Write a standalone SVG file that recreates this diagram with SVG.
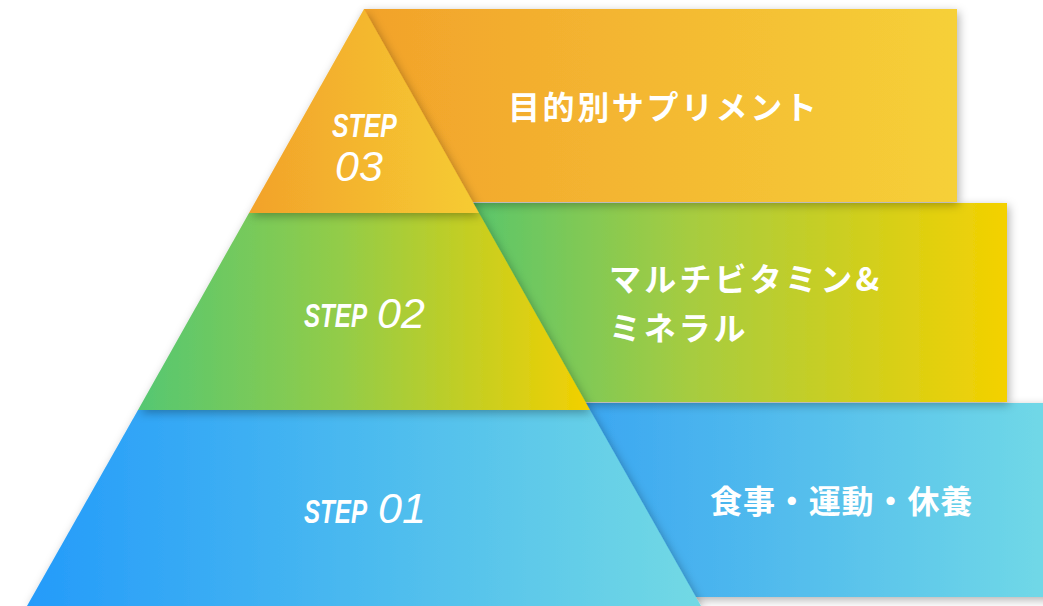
<svg xmlns="http://www.w3.org/2000/svg" width="1043" height="606" viewBox="0 0 1043 606">
<defs>
  <filter id="sh" x="-20%" y="-20%" width="140%" height="140%">
    <feDropShadow dx="2" dy="3" stdDeviation="5" flood-color="#000" flood-opacity="0.3"/>
  </filter>
  <linearGradient id="gTopTri" gradientUnits="userSpaceOnUse" x1="249" y1="0" x2="479" y2="0">
    <stop offset="0" stop-color="#F2A22B"/><stop offset="1" stop-color="#F6CC32"/>
  </linearGradient>
  <linearGradient id="gTopRect" gradientUnits="userSpaceOnUse" x1="364" y1="0" x2="957" y2="0">
    <stop offset="0" stop-color="#F2A22B"/><stop offset="1" stop-color="#F6D038"/>
  </linearGradient>
  <linearGradient id="gMidTrap" gradientUnits="userSpaceOnUse" x1="138" y1="0" x2="590" y2="0">
    <stop offset="0" stop-color="#55C772"/><stop offset="0.45" stop-color="#93CC48"/><stop offset="1" stop-color="#F3D000"/>
  </linearGradient>
  <linearGradient id="gMidRect" gradientUnits="userSpaceOnUse" x1="479" y1="0" x2="1007" y2="0">
    <stop offset="0" stop-color="#5CC66A"/><stop offset="0.4" stop-color="#A6CC40"/><stop offset="1" stop-color="#F4D100"/>
  </linearGradient>
  <linearGradient id="gBotTrap" gradientUnits="userSpaceOnUse" x1="27" y1="0" x2="701" y2="0">
    <stop offset="0" stop-color="#249BFA"/><stop offset="1" stop-color="#72D9E4"/>
  </linearGradient>
  <linearGradient id="gBotRect" gradientUnits="userSpaceOnUse" x1="590" y1="0" x2="1043" y2="0">
    <stop offset="0" stop-color="#3CA7F1"/><stop offset="1" stop-color="#70D8E7"/>
  </linearGradient>
</defs>
<style>
  .jp { font-family: "Noto Sans CJK JP", "Noto Sans", sans-serif; font-weight: 700; font-size: 32px; fill: #fff; letter-spacing: 1.5px; }
  .step { font-family: "Liberation Sans", "DejaVu Sans", sans-serif; font-style: italic; font-weight: 700; font-size: 34px; fill: #fff; }
  .num { font-family: "Liberation Sans", "DejaVu Sans", sans-serif; font-style: italic; font-weight: 400; font-size: 43px; fill: #fff; }
</style>
<rect width="1043" height="606" fill="#fff"/>

<g id="box-step01">
  <rect x="560" y="403" width="520" height="194" fill="url(#gBotRect)" filter="url(#sh)"/>
  <text class="jp" x="710" y="513" style="letter-spacing:0.9px">食事・運動・休養</text>
</g>
<g id="box-step02">
  <rect x="460" y="203" width="547" height="199" fill="url(#gMidRect)" filter="url(#sh)"/>
  <text class="jp" x="609" y="291" style="letter-spacing:3.2px">マルチビタミン&amp;</text>
  <text class="jp" x="609" y="340" style="letter-spacing:2.8px">ミネラル</text>
</g>
<g id="box-step03">
  <rect x="364" y="9" width="593" height="193" fill="url(#gTopRect)" filter="url(#sh)"/>
  <text class="jp" x="508" y="119" style="letter-spacing:2.6px">目的別サプリメント</text>
</g>

<g id="step01">
  <polygon points="138,410 590,410 701,606 27,606" fill="url(#gBotTrap)" filter="url(#sh)"/>
  <text class="step" transform="translate(304,523) scale(0.71,1)">STEP</text>
  <text class="num" x="378" y="523">01</text>
</g>
<g id="step02">
  <polygon points="249,213 479,213 590,410 138,410" fill="url(#gMidTrap)" filter="url(#sh)"/>
  <text class="step" transform="translate(304,327) scale(0.71,1)">STEP</text>
  <text class="num" x="377" y="328">02</text>
</g>
<g id="step03">
  <polygon points="364,9 479,213 249,213" fill="url(#gTopTri)" filter="url(#sh)"/>
  <text class="step" transform="translate(332,137) scale(0.73,1)">STEP</text>
  <text class="num" x="335" y="181">03</text>
</g>
</svg>
